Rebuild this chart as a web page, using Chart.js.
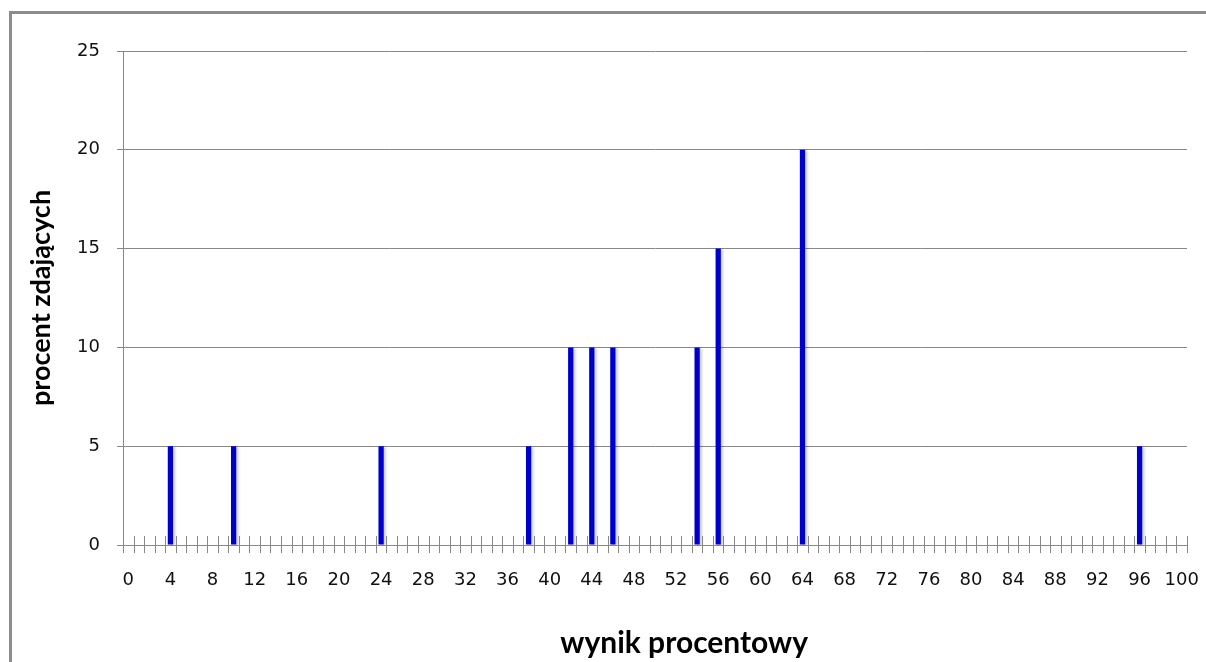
<!DOCTYPE html>
<html>
<head>
<meta charset="utf-8">
<script src="https://cdn.jsdelivr.net/npm/chart.js@4/dist/chart.umd.min.js"></script>
<style>
  html, body { margin: 0; padding: 0; background: #fff; overflow: hidden; }
  #wrap { position: relative; width: 1206px; height: 662px; }
  canvas { position: absolute; left: 0; top: 0; }
  #frame { position: absolute; left: 9px; top: 11px; width: 1300px; height: 800px;
           border: 3px solid #8c8c8c; pointer-events: none; }
</style>
</head>
<body>
<div id="wrap">
  <canvas id="c" width="1206" height="662"></canvas>
  <div id="frame"></div>
</div>
<script>
// Categories (wynik procentowy)
const categories = [
  0,1,2,3,4,5,6,7,8,9,
  10,11,12,13,14,15,16,17,18,19,
  20,21,22,23,24,25,26,27,28,29,
  30,31,32,33,34,35,36,37,38,39,
  40,41,42,43,44,45,46,47,48,49,
  50,51,52,53,54,55,56,57,58,59,
  60,61,62,63,64,65,66,67,68,69,
  70,71,72,73,74,75,76,77,78,79,
  80,81,82,83,84,85,86,87,88,89,
  90,91,92,93,94,95,96,97,98,99,
  100
];
// Series values (procent zdających)
const values = [
  0,0,0,0,5,0,0,0,0,0,
  5,0,0,0,0,0,0,0,0,0,
  0,0,0,0,5,0,0,0,0,0,
  0,0,0,0,0,0,0,0,5,0,
  0,0,10,0,10,0,10,0,0,0,
  0,0,0,0,10,0,15,0,0,0,
  0,0,0,0,20,0,0,0,0,0,
  0,0,0,0,0,0,0,0,0,0,
  0,0,0,0,0,0,0,0,0,0,
  0,0,0,0,0,0,5,0,0,0,
  0
];
const yTicks = [0, 5, 10, 15, 20, 25];
const xLabelEvery = 4;
const xTitle = 'wynik procentowy';
const yTitle = 'procent zdających';

const crossTicks = {
  id: 'crossTicks',
  afterDraw(chart) {
    const xs = chart.scales.x;
    const ys = chart.scales.y;
    const ctx = chart.ctx;
    const n = chart.data.labels.length;
    const y0 = ys.getPixelForValue(0);
    ctx.save();
    ctx.strokeStyle = '#888';
    ctx.lineWidth = 1;
    ctx.beginPath();
    for (let k = 0; k <= n; k++) {
      const px = Math.round(xs.left + k * (xs.right - xs.left) / n) + 0.5;
      ctx.moveTo(px, y0 - 9);
      ctx.lineTo(px, y0 + 8);
    }
    ctx.stroke();
    ctx.restore();
  }
};

const barShadow = {
  id: 'barShadow',
  beforeDatasetsDraw(chart) {
    const ctx = chart.ctx;
    ctx.save();
    ctx.shadowColor = 'rgba(0,0,0,0.22)';
    ctx.shadowOffsetX = 2;
    ctx.shadowOffsetY = 1;
    ctx.shadowBlur = 3;
  },
  afterDatasetsDraw(chart) {
    chart.ctx.restore();
  }
};

new Chart(document.getElementById('c'), {
  type: 'bar',
  data: {
    labels: categories,
    datasets: [{
      data: values,
      backgroundColor: '#0000cc',
      borderWidth: 0,
      barPercentage: 0.5,
      categoryPercentage: 1.0
    }]
  },
  options: {
    responsive: false,
    animation: false,
    devicePixelRatio: 1,
    layout: { padding: { top: 51, right: 19, left: 0, bottom: 0 } },
    plugins: { legend: { display: false }, tooltip: { enabled: false } },
    scales: {
      x: {
        type: 'category',
        offset: true,
        grid: { display: false },
        border: { display: true, color: '#888', width: 1 },
        afterFit(scale) {
          scale.height = 117;
          scale.paddingLeft = 0;
          scale.paddingRight = 0;
        },
        ticks: {
          autoSkip: false,
          maxRotation: 0,
          minRotation: 0,
          padding: 17,
          color: '#111',
          font: { family: 'DejaVu Sans', size: 18 },
          callback(value, index) {
            return index % xLabelEvery === 0 ? String(categories[index]) : '';
          }
        },
        title: {
          display: true,
          text: '        ' + xTitle,
          color: '#000',
          font: { family: 'Lato', size: 30, weight: 'bold' },
          padding: { top: 0, bottom: 1 }
        }
      },
      y: {
        min: 0,
        max: 25,
        afterFit(scale) { scale.width = 123; },
        afterBuildTicks(scale) { scale.ticks = yTicks.map(v => ({ value: v })); },
        grid: { color: '#888', lineWidth: 1, tickLength: 6 },
        border: { display: true, color: '#888', width: 1 },
        ticks: {
          padding: 17,
          color: '#111',
          font: { family: 'DejaVu Sans', size: 18 }
        },
        title: {
          display: true,
          text: yTitle,
          color: '#000',
          font: { family: 'Lato', size: 27, weight: 'bold' },
          padding: { top: 25, bottom: 0 }
        }
      }
    }
  },
  plugins: [crossTicks, barShadow]
});
</script>
</body>
</html>
